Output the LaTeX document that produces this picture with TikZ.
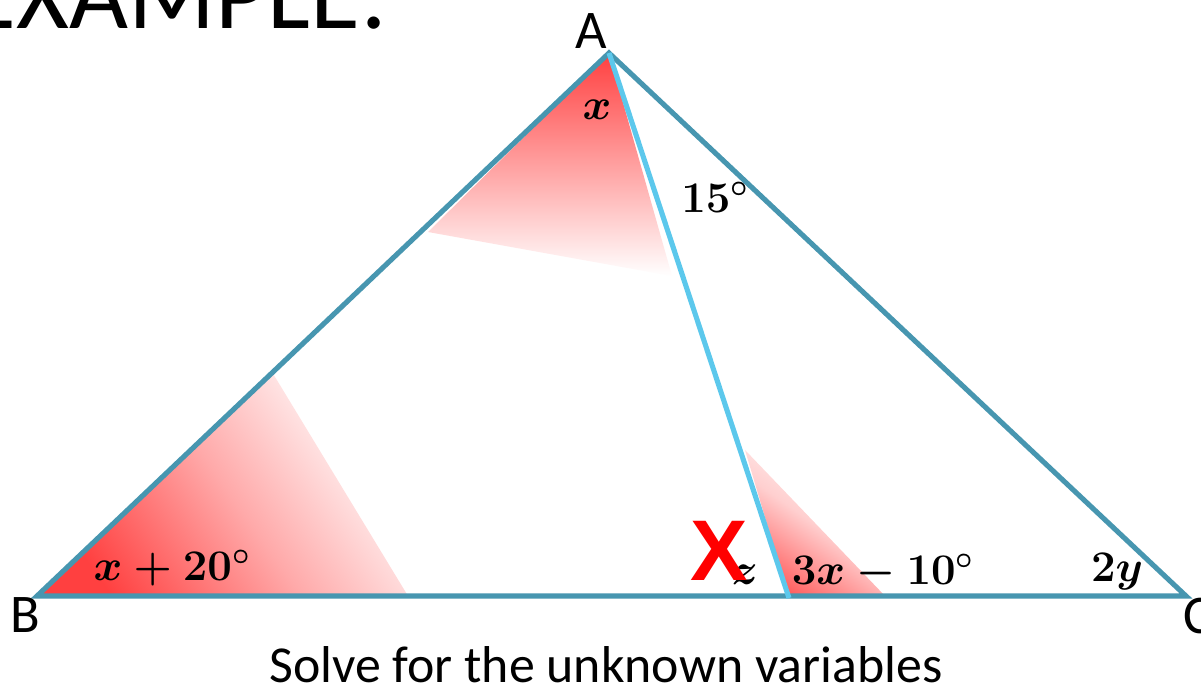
\documentclass[tikz,border=0pt]{standalone}
\usepackage{fontspec}
\setmainfont{Carlito}
\newfontfamily\arialfont{Liberation Sans}
\definecolor{tri}{HTML}{4796B0}
\definecolor{cev}{HTML}{5CC8EC}
\definecolor{shred}{HTML}{FF4040}
\definecolor{bigx}{HTML}{FF0000}
\tikzset{
  side/.style={draw=tri, line width=2.9pt, line join=miter},
  cevian/.style={draw=cev, line width=2.9pt},
  vlabel/.style={font=\fontsize{31}{36}\selectfont, inner sep=0pt},
  anglabel/.style={font=\fontsize{24}{28}\selectfont\boldmath, inner sep=0pt},
}
\begin{document}
\begin{tikzpicture}[x=0.02cm,y=-0.02cm]
\useasboundingbox (0,0) rectangle (1201,692);
\clip (0,0) rectangle (1201,692);
\fill[white] (0,0) rectangle (1201,692);
\coordinate (A) at (609,53);
\coordinate (B) at (37,596);
\coordinate (C) at (1186,596);
\coordinate (D) at (789,598);
% shaded angle regions
\shade[top color=shred, bottom color=white] (A) -- (428,232) -- (672,276) -- cycle;
\shade[top color=shred, bottom color=white, middle color=shred!45, shading angle=125] (B) -- (272,372) -- (408,596) -- cycle;
\shade[top color=shred!85, bottom color=white, middle color=shred!25, shading angle=145] (D) -- (745,450) -- (885,596) -- cycle;
% triangle and cevian
\draw[side] (A) -- (B) -- (C) -- cycle;
\draw[cevian] (A) -- (D);
% vertex labels
\node[vlabel] (lA) at (591,31) {A};
\node[vlabel] (lB) at (25,615) {B};
\node[vlabel] (lC) at (1198,616) {C};
% title
\node[font=\fontsize{58}{60}\selectfont, inner sep=0pt, anchor=base east] (title) at (388,29) {EXAMPLE:};
% angle labels
\node[anglabel] (ax) at (597,110) {$x$};
\node[anglabel] (a15) at (715,197) {$15^\circ$};
\node[anglabel] (aB) at (172,568) {$x+20^\circ$};
\node[anglabel] (az) at (745,575) {$z$};
\node[anglabel] (aD) at (883,572) {$3x-10^\circ$};
\node[anglabel] (aC) at (1117,572) {$2y$};
\node[font=\fontsize{49}{52}\arialfont\bfseries, text=bigx, inner sep=0pt] (mark) at (719,551) {X};
% caption
\node[font=\fontsize{29.5}{34}\selectfont, inner sep=0pt] (cap) at (606,665) {Solve for the unknown variables};
\end{tikzpicture}
\end{document}
